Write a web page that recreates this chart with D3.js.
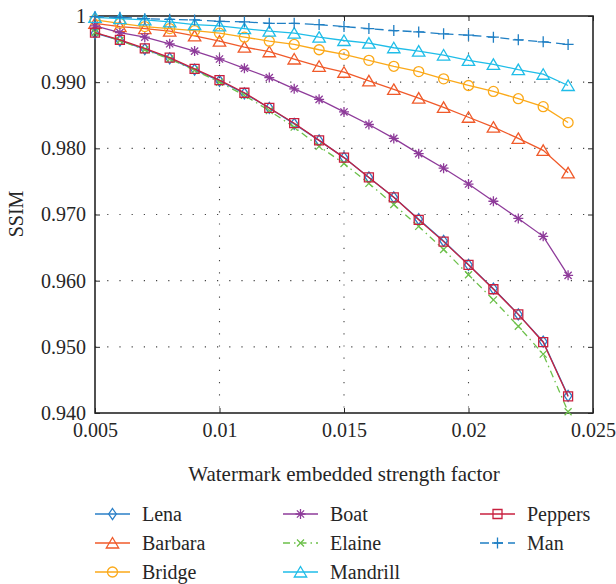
<!DOCTYPE html>
<html>
<head>
<meta charset="utf-8">
<script src="https://cdn.jsdelivr.net/npm/d3@7"></script>
<style>
  body { margin: 0; background: #fff; }
  svg text { font-family: "Liberation Serif", "DejaVu Serif", serif; fill: #262626; }
</style>
</head>
<body>
<div id="chart"></div>
<script>
// strength factors on the x axis
const factors = [0.005, 0.006, 0.007, 0.008, 0.009, 0.010, 0.011, 0.012, 0.013, 0.014,
                 0.015, 0.016, 0.017, 0.018, 0.019, 0.020, 0.021, 0.022, 0.023, 0.024];

const lena     = [0.9974, 0.9963, 0.9950, 0.9936, 0.9919, 0.9902, 0.9883, 0.9861, 0.9837, 0.9812,
                  0.9786, 0.9756, 0.9726, 0.9693, 0.9660, 0.9624, 0.9588, 0.9549, 0.9508, 0.9426];
const barbara  = [0.9989, 0.9984, 0.9981, 0.9977, 0.9970, 0.9962, 0.9953, 0.9946, 0.9935, 0.9924,
                  0.9915, 0.9902, 0.9889, 0.9876, 0.9862, 0.9847, 0.9832, 0.9815, 0.9797, 0.9763];
const bridge   = [0.9994, 0.9989, 0.9984, 0.9981, 0.9978, 0.9974, 0.9968, 0.9962, 0.9957, 0.9949,
                  0.9942, 0.9933, 0.9924, 0.9916, 0.9905, 0.9895, 0.9886, 0.9875, 0.9863, 0.9839];
const boat     = [0.9985, 0.9975, 0.9968, 0.9958, 0.9947, 0.9935, 0.9921, 0.9907, 0.9890, 0.9874,
                  0.9855, 0.9836, 0.9815, 0.9792, 0.9770, 0.9746, 0.9720, 0.9694, 0.9667, 0.9608];
const elaine   = [0.9975, 0.9963, 0.9949, 0.9935, 0.9918, 0.9900, 0.9880, 0.9857, 0.9832, 0.9803,
                  0.9777, 0.9747, 0.9715, 0.9682, 0.9647, 0.9609, 0.9571, 0.9531, 0.9489, 0.9402];
const mandrill = [0.9998, 0.9996, 0.9994, 0.9991, 0.9987, 0.9985, 0.9981, 0.9977, 0.9974, 0.9968,
                  0.9963, 0.9959, 0.9952, 0.9947, 0.9941, 0.9933, 0.9927, 0.9919, 0.9912, 0.9895];
const peppers  = [0.9975, 0.9964, 0.9951, 0.9937, 0.9920, 0.9903, 0.9884, 0.9861, 0.9838, 0.9812,
                  0.9786, 0.9756, 0.9726, 0.9692, 0.9659, 0.9624, 0.9587, 0.9549, 0.9507, 0.9425];
const man      = [0.9999, 0.9998, 0.9996, 0.9995, 0.9994, 0.9992, 0.9991, 0.9989, 0.9989, 0.9987,
                  0.9984, 0.9981, 0.9978, 0.9976, 0.9973, 0.9971, 0.9968, 0.9964, 0.9961, 0.9957];

const names = ["Lena", "Barbara", "Bridge", "Boat", "Elaine", "Mandrill", "Peppers", "Man"];
const xTicks = [0.005, 0.01, 0.015, 0.02, 0.025];
const xTickLabels = ["0.005", "0.01", "0.015", "0.02", "0.025"];
const yTicks = [0.94, 0.95, 0.96, 0.97, 0.98, 0.99, 1];
const yTickLabels = ["0.940", "0.950", "0.960", "0.970", "0.980", "0.990", "1"];

const series = [
  {name: names[0], values: lena,     color: "#2a7fc7", marker: "diamond",  dash: null},
  {name: names[1], values: barbara,  color: "#f05a2a", marker: "triangle", dash: null},
  {name: names[2], values: bridge,   color: "#fba919", marker: "circle",   dash: null},
  {name: names[3], values: boat,     color: "#8e3b9a", marker: "star",     dash: null},
  {name: names[4], values: elaine,   color: "#6cc04a", marker: "x",        dash: "7,4,1.5,4"},
  {name: names[5], values: mandrill, color: "#1fbde8", marker: "triangle", dash: null},
  {name: names[6], values: peppers,  color: "#c8203f", marker: "square",   dash: null},
  {name: names[7], values: man,      color: "#1f7fc4", marker: "plus",     dash: "9,5"}
];

const serif = '"Liberation Serif", "DejaVu Serif", serif';
const width = 616, height = 584;
const margin = {top: 16, right: 23, bottom: 171, left: 95};
const innerW = width - margin.left - margin.right;
const innerH = height - margin.top - margin.bottom;

const svg = d3.select("#chart").append("svg")
  .attr("width", width)
  .attr("height", height);

const g = svg.append("g").attr("transform", `translate(${margin.left},${margin.top})`);

const x = d3.scaleLinear().domain([0.005, 0.025]).range([0, innerW]);
const y = d3.scaleLinear().domain([0.94, 1]).range([innerH, 0]);

// dotted grid
g.append("g").selectAll("line")
  .data(xTicks.slice(1, -1))
  .join("line")
    .attr("x1", d => x(d)).attr("x2", d => x(d))
    .attr("y1", 0).attr("y2", innerH)
    .attr("stroke", "#444").attr("stroke-width", 1.1)
    .attr("stroke-dasharray", "1.2,11");
g.append("g").selectAll("line")
  .data(yTicks.slice(1, -1))
  .join("line")
    .attr("y1", d => y(d)).attr("y2", d => y(d))
    .attr("x1", 0).attr("x2", innerW)
    .attr("stroke", "#444").attr("stroke-width", 1.1)
    .attr("stroke-dasharray", "1.2,11");

// axes, ticks pointing inward
const axisColor = "#262626";
function styleAxis(sel) {
  sel.attr("font-family", serif);
  sel.select(".domain").remove();
  sel.selectAll(".tick line").attr("stroke", axisColor).attr("stroke-width", 1);
  sel.selectAll("text").style("font-size", "20px").attr("fill", axisColor);
}

g.append("g")
  .attr("transform", `translate(0,${innerH})`)
  .call(d3.axisBottom(x).tickValues(xTicks).tickSize(-5).tickPadding(10)
    .tickFormat((d, i) => xTickLabels[i]))
  .call(styleAxis);
g.append("g")
  .call(d3.axisLeft(y).tickValues(yTicks).tickSize(-5).tickPadding(9)
    .tickFormat((d, i) => yTickLabels[i]))
  .call(styleAxis);
g.append("g")
  .call(d3.axisTop(x).tickValues(xTicks).tickSize(-5).tickFormat(""))
  .call(styleAxis);
g.append("g")
  .attr("transform", `translate(${innerW},0)`)
  .call(d3.axisRight(y).tickValues(yTicks).tickSize(-5).tickFormat(""))
  .call(styleAxis);

g.append("rect")
  .attr("width", innerW).attr("height", innerH)
  .attr("fill", "none").attr("stroke", axisColor).attr("stroke-width", 1.6);

// marker shapes
function markerPath(type) {
  switch (type) {
    case "diamond":  return "M0,-5.5L3.8,0L0,5.5L-3.8,0Z";
    case "triangle": return "M0,-5.5L6.2,5L-6.2,5Z";
    case "circle":   return "M5,0A5,5 0 1,1 -5,0A5,5 0 1,1 5,0Z";
    case "square":   return "M-4.5,-4.5H4.5V4.5H-4.5Z";
    case "x":        return "M-3.5,-3.5L3.5,3.5M-3.5,3.5L3.5,-3.5";
    case "plus":     return "M-5.5,0H5.5M0,-5.5V5.5";
    case "star":     return "M-5,0H5M0,-5V5M-3.6,-3.6L3.6,3.6M-3.6,3.6L3.6,-3.6";
  }
}

const line = d3.line()
  .x((d, i) => x(factors[i]))
  .y(d => y(d));

series.forEach(s => {
  g.append("path")
    .datum(s.values)
    .attr("fill", "none")
    .attr("stroke", s.color)
    .attr("stroke-width", 1.3)
    .attr("stroke-dasharray", s.dash)
    .attr("d", line);

  g.append("g").selectAll("path")
    .data(s.values)
    .join("path")
      .attr("transform", (d, i) => `translate(${x(factors[i])},${y(d)})`)
      .attr("d", markerPath(s.marker))
      .attr("fill", "none")
      .attr("stroke", s.color)
      .attr("stroke-width", 1.3);
});

// axis titles
svg.append("text")
  .attr("x", margin.left + innerW / 2)
  .attr("y", 481)
  .attr("text-anchor", "middle")
  .attr("font-family", serif)
  .style("font-size", "21px")
  .text("Watermark embedded strength factor");

svg.append("text")
  .attr("transform", "translate(23,214) rotate(-90)")
  .attr("text-anchor", "middle")
  .attr("font-family", serif)
  .style("font-size", "20px")
  .text("SSIM");

// legend, three columns
const legCols = [95, 283, 480];
const legRows = [514, 543, 572];
const legend = svg.append("g").attr("font-family", serif);
series.forEach((s, i) => {
  const cx = legCols[Math.floor(i / 3)];
  const cy = legRows[i % 3];
  const item = legend.append("g").attr("transform", `translate(${cx},${cy})`);
  item.append("line")
    .attr("x1", 0).attr("x2", 35)
    .attr("stroke", s.color).attr("stroke-width", 1.3)
    .attr("stroke-dasharray", s.dash);
  item.append("path")
    .attr("transform", "translate(17.5,0)")
    .attr("d", markerPath(s.marker))
    .attr("fill", "none").attr("stroke", s.color).attr("stroke-width", 1.3);
  item.append("text")
    .attr("x", 47).attr("dy", "0.35em")
    .style("font-size", "20px")
    .text(s.name);
});
</script>
</body>
</html>
